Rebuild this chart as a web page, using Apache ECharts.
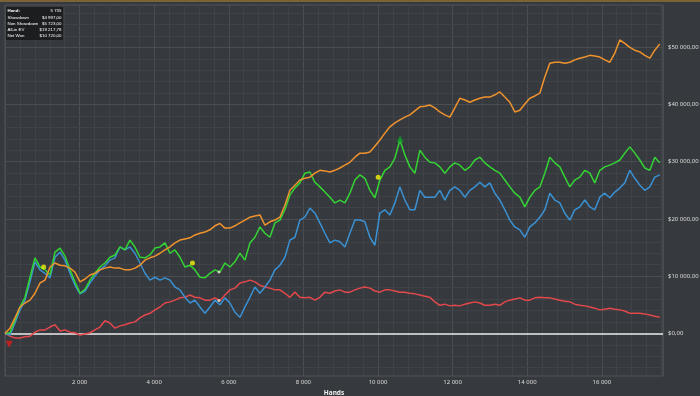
<!DOCTYPE html>
<html><head><meta charset="utf-8">
<script src="https://cdn.jsdelivr.net/npm/echarts@6/dist/echarts.min.js"></script>
<style>html,body{margin:0;padding:0;background:#36393d}#c{width:700px;height:396px}</style>
</head><body><div id="c"></div><script>
// hands between consecutive samples
const HAND_STEP = 134;
const X_MAX = 17640;
const Y_MIN = -7460, Y_MAX = 57400;

const allInEV = [
0, 900, 2700, 4600, 5300, 5800, 7000, 8800, 9300, 11600,
12300, 11900, 11800, 11400, 10700, 9000, 9500, 10200, 10500, 11100,
11400, 11600, 11400, 11400, 11100, 11100, 11400, 11900, 12800, 13200,
13500, 14000, 14600, 15100, 15800, 16300, 16500, 16700, 17200, 17500,
17700, 18100, 18800, 19200, 18400, 18400, 18800, 19300, 19800, 20300,
20500, 20700, 18900, 19500, 19800, 20300, 22400, 25000, 25900, 26800,
27100, 27300, 28000, 28500, 28400, 28200, 28500, 28900, 29400, 29900,
30800, 31500, 31500, 31700, 32700, 33800, 35000, 36100, 36800, 37300,
37800, 38200, 38900, 39600, 39700, 39900, 39400, 38700, 38200, 37800,
39400, 41100, 40800, 40400, 40800, 41100, 41300, 41300, 41700, 42200,
41300, 40400, 38700, 39000, 40100, 41100, 41500, 42000, 44800, 47200,
47400, 47400, 47200, 47400, 47800, 48100, 48300, 48600, 48500, 48300,
47800, 47400, 49000, 51300, 50700, 50000, 49500, 49200, 48600, 48100,
49500, 50600];

const netWon = [
0, 100, 2300, 4600, 6300, 9800, 13200, 11600, 11100, 10200,
14200, 14900, 13500, 11100, 9000, 7000, 7700, 9300, 10500, 11600,
12300, 13300, 13700, 15100, 14600, 16300, 15100, 13300, 13200, 13700,
14900, 15100, 15800, 14000, 14600, 13300, 11600, 11900, 11100, 9800,
9700, 10500, 11100, 10700, 12300, 11600, 12500, 14000, 12800, 15800,
16800, 18600, 17500, 16800, 19300, 19800, 21600, 24200, 25400, 26300,
28000, 28200, 26400, 25600, 24700, 23800, 22800, 23300, 22800, 24500,
26800, 27700, 27100, 25000, 23700, 26800, 28500, 29100, 30600, 33800,
31200, 29100, 28000, 32000, 30800, 29900, 29800, 29100, 28000, 29100,
29800, 29400, 28500, 29100, 30300, 30800, 29800, 29100, 28500, 28000,
26800, 25600, 24500, 23800, 22100, 23800, 25000, 25600, 28000, 30800,
29800, 29100, 27300, 25600, 26800, 27300, 28500, 28000, 26300, 28500,
29100, 29400, 29800, 30300, 31500, 32600, 31500, 30300, 28900, 28500,
30800, 29800];

const showdown = [
0, -300, 1800, 4100, 5800, 9000, 12500, 11100, 10500, 9700,
13300, 14200, 12800, 10500, 8400, 6900, 7400, 8800, 10000, 11100,
11800, 12800, 13200, 15100, 14600, 15100, 14000, 12300, 10500, 9300,
9800, 9300, 9700, 9300, 8100, 7600, 6300, 5300, 5800, 4600,
3500, 4600, 5800, 5000, 6200, 5300, 3700, 2800, 4600, 6300,
8100, 7000, 8100, 9300, 11100, 11900, 13300, 16300, 16800, 19800,
20300, 21900, 21000, 19300, 17500, 15800, 16300, 16000, 15100, 17500,
19800, 19800, 19500, 16800, 15400, 21000, 21600, 20700, 22800, 25600,
23300, 21600, 21600, 25000, 23800, 23800, 23800, 25000, 23300, 25000,
25600, 25000, 23800, 25000, 25600, 26400, 25600, 26300, 24500, 23300,
21600, 19800, 18600, 18100, 16800, 18600, 19300, 20300, 21600, 24500,
23300, 22800, 21000, 19800, 21600, 22100, 23300, 22100, 21600, 23800,
24500, 23700, 24700, 25400, 26300, 28500, 27100, 25900, 25000, 25600,
27300, 27700];

const nonShowdown = [
0, -500, -800, -800, -600, -500, 200, 600, 600, 1100,
1500, 400, 600, 200, 100, -300, -100, 100, 600, 1100,
2200, 1800, 900, 1300, 1500, 1800, 2000, 2700, 3200, 3500,
4100, 4600, 5300, 5500, 5800, 6200, 6300, 6700, 6300, 6200,
5800, 5800, 6200, 5700, 6700, 7600, 7900, 8800, 9000, 9300,
9000, 8400, 8100, 7900, 7600, 7600, 7000, 6300, 7200, 6300,
6200, 6300, 5800, 6300, 7200, 7000, 7400, 7600, 7200, 7200,
7600, 7900, 8100, 7900, 7400, 7200, 7600, 7600, 7400, 7200,
7200, 7000, 6900, 6700, 6500, 6300, 5500, 4900, 5100, 4800,
4900, 4800, 5100, 5300, 5500, 5300, 4900, 4900, 5100, 4900,
5500, 5800, 6000, 6200, 5800, 5800, 6200, 6300, 6200, 6200,
6000, 5800, 5600, 5500, 5100, 4900, 4800, 4600, 4400, 4100,
4200, 4400, 4200, 4100, 3900, 3500, 3500, 3500, 3400, 3200,
3000, 2800];

const yTickValues = [0, 10000, 20000, 30000, 40000, 50000];
const yellowMarks = [[1036, 11600], [5025, 12300], [10004, 27300]];
const greenMark = [[10593, 34000]];
const startMark = [[110, -1900]];
const hoverMarks = [[5735, 10720], [5735, 5723]];

const statLabels = ['Hand:', 'Showdown', 'Non Showdown', 'All-in EV', 'Net Won'];
const statValues = ['5 735', '$4 997,00', '$5 723,00', '$19 217,78', '$10 720,00'];

function sep(n){ return String(Math.round(n)).replace(/\B(?=(\d{3})+(?!\d))/g, ' '); }
function money(n){ return '$' + sep(n) + ',00'; }
const toPts = arr => arr.map((v, i) => [i * HAND_STEP, v]);

// minor horizontal grid every 2000 (between the labelled ticks)
const minorY = [];
for (let v = -6000; v <= 56000; v += 2000) { if (v % 10000 !== 0) minorY.push({yAxis: v}); }
const majorY = yTickValues.filter(v => v !== 0).map(v => ({yAxis: v}));

const FONT = 'Noto Sans';
const chart = echarts.init(document.getElementById('c'), null, {renderer: 'canvas'});

const statGraphics = [];
statLabels.forEach((t, i) => {
  const y = 11.2 + i * 6.1;
  statGraphics.push({type: 'text', x: 7.5, y, z: 100,
    style: {text: t, fill: '#ffffff', font: (i === 0 ? 'bold ' : '') + '4.4px "Liberation Sans"', textVerticalAlign: 'middle'}});
  statGraphics.push({type: 'text', x: 61.5, y, z: 100,
    style: {text: statValues[i], fill: '#ffffff', font: '4.4px "Liberation Sans"', textAlign: 'right', textVerticalAlign: 'middle'}});
});

const lineSeries = (name, data, color) => ({
  name, type: 'line', data: toPts(data), showSymbol: false, symbol: 'none', z: 3,
  lineStyle: {color, width: 1.5}, itemStyle: {color}, animation: false, silent: true
});

chart.setOption({
  backgroundColor: '#36393d',
  animation: false,
  textStyle: {fontFamily: FONT},
  grid: {left: 5, right: 37, top: 5, bottom: 20, outerBoundsMode: 'none', containLabel: false,
    show: true, borderColor: '#50545a', borderWidth: 1, backgroundColor: 'transparent'},
  xAxis: {
    type: 'value', min: 0, max: X_MAX, interval: 2000,
    name: 'Hands', nameLocation: 'middle', nameGap: 14,
    nameTextStyle: {color: '#eeeeee', fontSize: 6.5, fontWeight: 'bold', fontFamily: FONT},
    axisLine: {show: false}, axisTick: {show: false},
    axisLabel: {color: '#dddddd', fontSize: 6, margin: 3, fontFamily: FONT,
      formatter: v => (v === 0 ? '' : sep(v)), showMaxLabel: false},
    splitLine: {show: true, lineStyle: {color: '#4a4e53', width: 1}},
    minorTick: {show: false, splitNumber: 5},
    minorSplitLine: {show: true, lineStyle: {color: '#3f4347', width: 1}}
  },
  yAxis: {
    type: 'value', position: 'right', min: Y_MIN, max: Y_MAX,
    name: 'Winnings', nameLocation: 'middle', nameGap: 29, nameRotate: 90,
    nameTextStyle: {color: '#eeeeee', fontSize: 6, fontWeight: 'bold', fontFamily: FONT},
    axisLine: {show: false},
    axisTick: {show: false, customValues: yTickValues},
    axisLabel: {color: '#dddddd', fontSize: 6, margin: 5, fontFamily: FONT,
      customValues: yTickValues, formatter: v => money(v)},
    splitLine: {show: false}
  },
  series: [
    {type: 'line', data: [], z: 1, silent: true,
      markLine: {z: 1, silent: true, symbol: 'none', label: {show: false}, animation: false,
        data: minorY.map(d => Object.assign({lineStyle: {color: '#3f4347', width: 1, type: 'solid'}}, d))
          .concat(majorY.map(d => Object.assign({lineStyle: {color: '#4a4e53', width: 1, type: 'solid'}}, d)))}},
    {type: 'line', data: [], z: 2, silent: true,
      markLine: {z: 2, silent: true, symbol: 'none', label: {show: false}, animation: false,
        lineStyle: {color: '#ececec', width: 1.5, type: 'solid'}, data: [{yAxis: 0}]}},
    lineSeries('Non Showdown', nonShowdown, '#e2484c'),
    lineSeries('Showdown', showdown, '#3a91d3'),
    lineSeries('Net Won', netWon, '#33d433'),
    lineSeries('All-in EV', allInEV, '#f0932e'),
    {type: 'scatter', data: yellowMarks, symbol: 'circle', symbolSize: 5, itemStyle: {color: '#f2f20a'}, silent: true, z: 5},
    {type: 'scatter', data: greenMark, symbol: 'triangle', symbolSize: 7, itemStyle: {color: '#129a2a'}, silent: true, z: 5},
    {type: 'scatter', data: startMark, symbol: 'triangle', symbolRotate: 180, symbolSize: 7, itemStyle: {color: '#e01b1b'}, silent: true, z: 5},
    {type: 'scatter', data: hoverMarks, symbol: 'circle', symbolSize: 3, itemStyle: {color: '#e8e8d8'}, silent: true, z: 5}
  ],
  graphic: [
    {type: 'rect', left: 0, top: 0, z: 100, shape: {width: 700, height: 2}, style: {fill: '#7d6236'}},
    {type: 'rect', x: 6, y: 7, z: 99, shape: {width: 57, height: 33}, style: {fill: 'rgba(22,23,25,0.82)'}},
    ...statGraphics
  ]
});
</script></body></html>
